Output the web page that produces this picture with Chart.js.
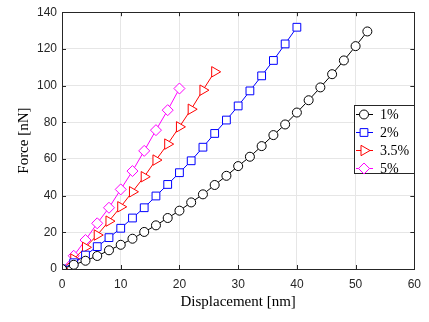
<!DOCTYPE html>
<html>
<head>
<meta charset="utf-8">
<script src="https://cdn.jsdelivr.net/npm/chart.js@4"></script>
<style>
  html, body { margin: 0; padding: 0; background: #fff; }
  #wrap { width: 429px; height: 322px; position: relative; }
</style>
</head>
<body>
<div id="wrap"><canvas id="forceChart"></canvas></div>
<script>
// Displacement [nm] for each strain level
const disp1 = [0, 2, 4, 6, 8, 10, 12, 14, 16, 18, 20, 22, 24, 26, 28, 30, 32, 34, 36, 38, 40, 42, 44, 46, 48, 50, 52];
const disp2 = [0, 2, 4, 6, 8, 10, 12, 14, 16, 18, 20, 22, 24, 26, 28, 30, 32, 34, 36, 38, 40];
const disp35 = [0, 2, 4, 6, 8, 10, 12, 14, 16, 18, 20, 22, 24, 26];
const disp5 = [0, 2, 4, 6, 8, 10, 12, 14, 16, 18, 20];

// Force [nN]
const force1 = [0, 2.3, 4.5, 7.1, 10.2, 13.2, 16.5, 20.2, 23.8, 27.8, 31.8, 36.3, 40.7, 45.8, 50.8, 56.1, 61.2, 67, 73, 78.8, 85.3, 92, 99, 106.2, 113.7, 121.5, 129.5];
const force2 = [0, 3.4, 7.6, 12.2, 17.1, 22.2, 27.8, 33.4, 39.8, 46.1, 52.5, 59, 66.4, 73.9, 81.2, 88.9, 97.1, 105.3, 113.7, 122.7, 131.8];
const force35 = [0, 5.4, 11.8, 18.5, 26.1, 33.9, 42.1, 50.3, 59.4, 68.1, 77.5, 87.1, 97.5, 107.5];
const force5 = [0, 7.2, 15.8, 24.9, 33.4, 43.4, 53.4, 64.4, 75.7, 86.6, 98.4];

const seriesLabels = ['1%', '2%', '3.5%', '5%'];
const xTicks = [0, 10, 20, 30, 40, 50, 60];
const yTicks = [0, 20, 40, 60, 80, 100, 120, 140];

const tickFont = '"Liberation Sans", Arial, sans-serif';
const serifFont = '"Liberation Serif", "DejaVu Serif", serif';
const axisColor = '#262626';

function toPoints(xs, ys) {
    const pts = [];
    for (let i = 0; i < xs.length; i++) {
        pts.push({ x: xs[i], y: ys[i] });
    }
    return pts;
}

function makeSet(label, xs, ys, color, style, radius, rotation) {
    return {
        label,
        data: toPoints(xs, ys),
        borderColor: color,
        backgroundColor: '#ffffff',
        borderWidth: 1,
        pointStyle: style,
        pointRadius: radius,
        pointRotation: rotation || 0,
        pointBorderColor: color,
        pointBackgroundColor: '#ffffff',
        pointBorderWidth: 1,
        showLine: true,
        fill: false,
        tension: 0,
    };
}

// Box, inward ticks and legend drawn inside the plot like the original figure
const matlabBox = {
    id: 'matlabBox',
    afterDatasetsDraw(chart) {
        const { ctx, chartArea: a, scales } = chart;
        ctx.save();
        ctx.strokeStyle = axisColor;
        ctx.lineWidth = 1;
        ctx.beginPath();
        xTicks.forEach((t) => {
            const px = Math.round(scales.x.getPixelForValue(t)) + 0.5;
            ctx.moveTo(px, a.bottom); ctx.lineTo(px, a.bottom - 4);
            ctx.moveTo(px, a.top); ctx.lineTo(px, a.top + 4);
        });
        yTicks.forEach((t) => {
            const py = Math.round(scales.y.getPixelForValue(t)) + 0.5;
            ctx.moveTo(a.left, py); ctx.lineTo(a.left + 4, py);
            ctx.moveTo(a.right, py); ctx.lineTo(a.right - 4, py);
        });
        ctx.stroke();
        ctx.strokeRect(Math.round(a.left) + 0.5, Math.round(a.top) + 0.5,
            Math.round(a.right - a.left), Math.round(a.bottom - a.top));

        // legend
        const lx = 354, ly = 105, lw = 60, lh = 68;
        ctx.fillStyle = '#ffffff';
        ctx.fillRect(lx, ly, lw, lh);
        ctx.strokeStyle = axisColor;
        ctx.strokeRect(lx + 0.5, ly + 0.5, lw, lh);
        chart.data.datasets.forEach((ds, i) => {
            const y = ly + 9.5 + i * 18;
            ctx.strokeStyle = ds.borderColor;
            ctx.lineWidth = 1;
            ctx.beginPath();
            ctx.moveTo(lx + 2, y);
            ctx.lineTo(lx + 19, y);
            ctx.stroke();
            ctx.fillStyle = '#ffffff';
            Chart.helpers.drawPoint(ctx, {
                pointStyle: ds.pointStyle,
                rotation: ds.pointRotation,
                radius: ds.pointRadius,
                borderWidth: 1,
            }, lx + 10, y);
            ctx.fillStyle = '#000000';
            ctx.font = '14px ' + serifFont;
            ctx.textBaseline = 'middle';
            ctx.textAlign = 'left';
            ctx.fillText(ds.label, lx + 26, y + 1);
        });
        ctx.restore();
    },
};

const ctx = document.getElementById('forceChart').getContext('2d');
const chart = new Chart(ctx, {
    type: 'scatter',
    data: {
        datasets: [
            makeSet(seriesLabels[0], disp1, force1, '#000000', 'circle', 4.5),
            makeSet(seriesLabels[1], disp2, force2, '#0000ff', 'rect', 5.5),
            makeSet(seriesLabels[2], disp35, force35, '#ff0000', 'triangle', 6, 90),
            makeSet(seriesLabels[3], disp5, force5, '#ff00ff', 'rectRot', 5.5),
        ],
    },
    options: {
        responsive: true,
        maintainAspectRatio: false,
        animation: false,
        layout: { padding: { left: 0, right: 11, top: 12, bottom: 0 } },
        plugins: {
            legend: { display: false },
            tooltip: { enabled: false },
        },
        scales: {
            x: {
                type: 'linear',
                min: 0,
                max: 60,
                afterBuildTicks(scale) { scale.ticks = xTicks.map((v) => ({ value: v })); },
                afterFit(scale) { scale.height = 53; },
                grid: { color: '#e6e6e6', drawTicks: false, lineWidth: 1 },
                border: { display: false },
                ticks: { color: axisColor, font: { family: tickFont, size: 12 }, padding: 8 },
                title: {
                    display: true,
                    text: 'Displacement [nm]',
                    color: '#000000',
                    font: { family: serifFont, size: 15 },
                    padding: { top: 2, bottom: 11 },
                },
            },
            y: {
                type: 'linear',
                min: 0,
                max: 140,
                afterBuildTicks(scale) { scale.ticks = yTicks.map((v) => ({ value: v })); },
                afterFit(scale) { scale.width = 62; },
                grid: { color: '#e6e6e6', drawTicks: false, lineWidth: 1 },
                border: { display: false },
                ticks: { color: axisColor, font: { family: tickFont, size: 12 }, padding: 5 },
                title: {
                    display: true,
                    text: 'Force [nN]',
                    color: '#000000',
                    font: { family: serifFont, size: 15 },
                    padding: { top: 15, bottom: 0 },
                },
            },
        },
    },
    plugins: [matlabBox],
});
</script>
</body>
</html>
